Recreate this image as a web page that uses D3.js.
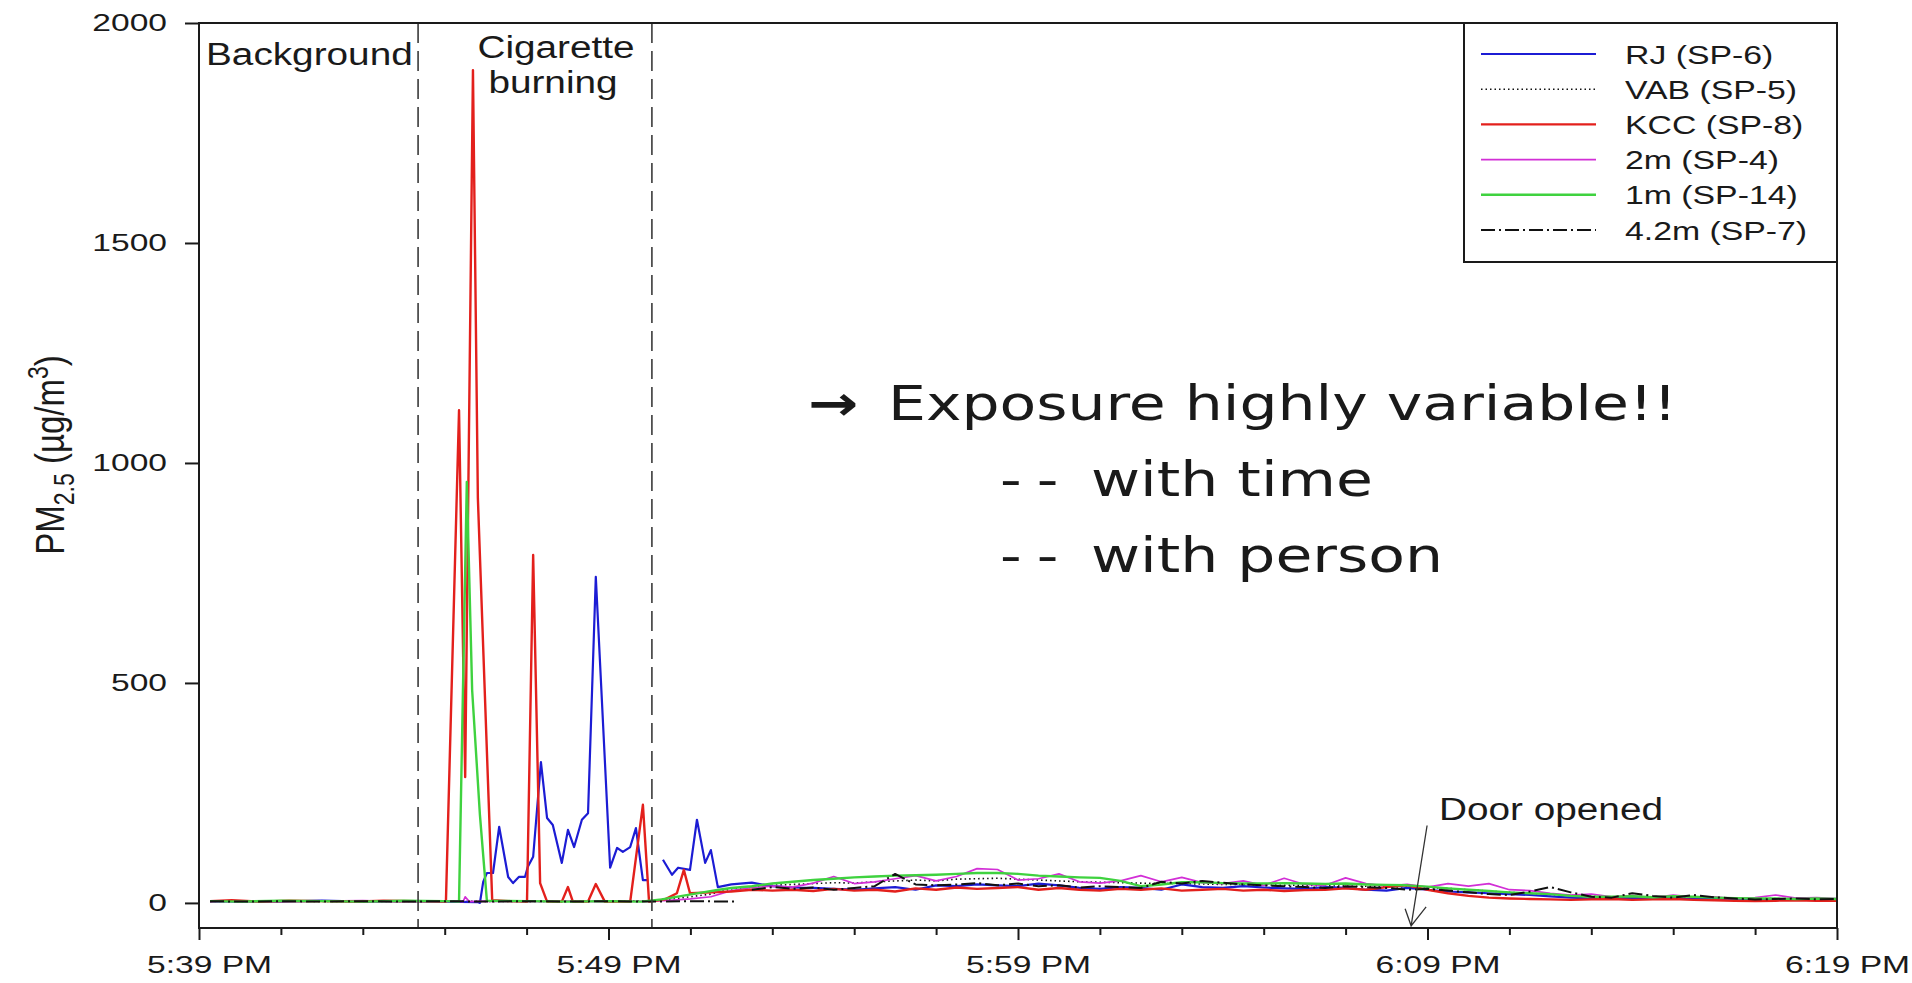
<!DOCTYPE html>
<html>
<head>
<meta charset="utf-8">
<script src="https://cdn.jsdelivr.net/npm/d3@7"></script>
<style>
body { margin: 0; background: #fff; overflow: hidden; }
#chart text { fill: #1a1a1a; }
.chart-text { font-family: "Liberation Sans", Arial, sans-serif; }
.note { font-family: "DejaVu Sans", Verdana, sans-serif; fill: #000; }
</style>
</head>
<body>
<svg id="chart" width="1912" height="983"></svg>
<script>

// ---------------------------------------------------------------
// Data (minutes after 5:39 PM, PM2.5 in ug/m3)
// ---------------------------------------------------------------
var seriesNames = ["RJ (SP-6)", "VAB (SP-5)", "KCC (SP-8)", "2m (SP-4)", "1m (SP-14)", "4.2m (SP-7)"];

var majorMinutes = [0, 10, 20, 30, 40];
var timeLabels = ["5:39 PM", "5:49 PM", "5:59 PM", "6:09 PM", "6:19 PM"];
var minorMinutes = [2, 4, 6, 8, 12, 14, 16, 18, 22, 24, 26, 28, 32, 34, 36, 38];
var yTicks = [0, 500, 1000, 1500, 2000];

var phaseMinutes = [5.35, 11.06];   // background | cigarette burning | after
var doorMinute = 29.6;

// spiky first part, [minute, value]; [null] marks a gap in the record
var rjEarly = [[0.27,3],[1,4],[2,3],[3,5],[4,3],[5,4],[6,3],[6.81,2],[6.86,0],[6.94,48],[7.03,68],[7.18,68],
  [7.33,173],[7.55,59],[7.67,45],[7.81,59],[7.96,59],[8.03,82],[8.16,105],[8.35,320],[8.50,193],[8.64,177],
  [8.86,91],[9.01,166],[9.16,127],[9.35,189],[9.50,204],[9.69,741],[10.04,80],[10.21,125],[10.35,116],
  [10.53,127],[10.67,170],[10.84,52],[10.94,52],[null],[11.33,98],[11.55,64],[11.70,80],[11.99,75],
  [12.16,189],[12.36,91],[12.50,120],[12.67,36]];
var vabEarly = [[0.27,3],[2,4],[4,3],[6,4],[8,3],[10,4],[11,5],[11.5,8],[12,14],[12.5,20]];
var kccEarly = [[0.27,4],[0.8,6],[1.5,3],[2.2,5],[3,4],[3.8,3],[4.5,5],[5.3,4],[6.03,3],[6.35,1120],[6.50,286],
  [6.69,1893],[6.81,920],[7.16,6],[7.6,4],[8.01,3],[8.16,791],[8.33,45],[8.50,3],[8.86,3],[9.01,36],[9.13,3],
  [9.50,3],[9.69,43],[9.91,3],[10.53,3],[10.84,223],[10.99,3],[11.38,8],[11.67,22],[11.84,75],[11.99,22],[12.5,24]];
var m2Early = [[0.27,3],[1,4],[2,3],[3,4],[4,5],[5,3],[6,4],[6.45,3],[6.5,14],[6.6,3],[7,4],[8,3],[9,4],[10,3],
  [11,4],[11.5,6],[12,9],[12.5,14]];
var m1Early = [[0.27,4],[1,3],[2,5],[3,4],[4,3],[5,5],[6.0,4],[6.35,3],[6.54,957],[6.67,484],[6.86,200],[7.03,5],
  [8,4],[9,3],[10,4],[10.8,3],[11.3,8],[11.8,16],[12.3,24],[12.7,30]];
var m42Early = [[0.27,4],[1,3],[2,4],[3,3],[4,4],[5,3],[6,4],[7,3],[8,4],[9,3],[10,4],[11,3],[12,4],[13.16,3]];

// slow part, one value every half minute
var lateMinutes = [13,13.5,14,14.5,15,15.5,16,16.5,17,17.5,18,18.5,19,19.5,20,20.5,21,21.5,22,22.5,23,23.5,24,24.5,
  25,25.5,26,26.5,27,27.5,28,28.5,29,29.5,30,30.5,31,31.5,32,32.5,33,33.5,34,34.5,35,35.5,36,36.5,37,37.5,38,38.5,39,39.5,40];
var rjLate = [42,46,38,35,34,32,30,33,36,30,40,38,42,40,38,44,40,34,32,36,34,30,42,36,34,38,35,33,32,36,34,30,28,34,30,
  26,24,22,20,18,15,12,10,11,12,10,11,9,10,8,8,7,8,7,6];
var vabLate = [32,36,40,42,44,46,45,48,50,52,50,54,55,56,54,52,50,48,47,46,45,44,44,43,42,42,41,40,40,39,38,38,37,36,35,
  33,30,27,24,22,19,17,15,14,14,13,13,12,12,11,10,10,9,9,9];
var kccLate = [26,30,28,30,27,32,28,30,26,33,30,35,32,34,36,30,34,30,28,32,30,33,28,30,32,28,30,27,29,30,33,30,36,40,30,
  22,16,12,10,9,8,7,8,9,7,8,9,7,6,5,4,5,6,5,5];
var m2Late = [28,35,38,36,45,60,44,48,55,62,50,60,78,76,52,55,66,48,45,50,62,48,58,46,44,50,40,56,42,40,57,44,38,42,36,
  44,38,44,30,28,22,18,20,14,16,12,18,13,14,10,12,18,11,12,10];
var m1Late = [34,38,44,48,52,55,58,60,62,63,64,66,68,68,66,62,60,58,57,50,38,42,47,47,45,44,44,45,44,43,44,42,41,40,37,
  33,30,27,24,22,20,16,14,14,15,13,15,14,12,11,10,10,9,10,9];
var m42Late = [null,30,36,32,35,30,34,38,66,42,40,42,45,40,44,38,40,35,38,36,34,48,44,50,46,42,40,38,36,34,38,36,34,30,32,
  28,24,20,18,26,36,24,14,12,22,16,12,18,13,10,8,9,10,8,9];

// ---------------------------------------------------------------
var svg = d3.select("#chart");
var plot = {left: 199, right: 1837, top: 23, bottom: 928};

var x = d3.scaleLinear().domain([0, 40]).range([plot.left, plot.right]);
var y = d3.scaleLinear().domain([-57, 2000]).range([plot.bottom, plot.top]);

var styles = [
    {color: "#1c1cd4", width: 2.2, dash: null},
    {color: "#111",    width: 1.6, dash: "1.5,3"},
    {color: "#e3201c", width: 2.4, dash: null},
    {color: "#d22fd6", width: 1.7, dash: null},
    {color: "#3fd23f", width: 2.4, dash: null},
    {color: "#111",    width: 2.0, dash: "14,4,2,4"}
];

/** Joins the spiky part and the half-minute part of one instrument. */
function buildSeries(early, late) {
    var pts = early.map(function(p) {
        return {t: p[0], v: p.length > 1 ? p[1] : null};
    });
    lateMinutes.forEach(function(t, i) {
        pts.push({t: t, v: late[i]});
    });
    return pts;
}

var series = [
    buildSeries(rjEarly, rjLate),
    buildSeries(vabEarly, vabLate),
    buildSeries(kccEarly, kccLate),
    buildSeries(m2Early, m2Late),
    buildSeries(m1Early, m1Late),
    buildSeries(m42Early, m42Late)
];

var line = d3.line()
    .defined(function(d) { return d.v !== null && d.t !== null; })
    .x(function(d) { return x(d.t); })
    .y(function(d) { return y(d.v); });

// draw order: dotted & blue first, red, magenta, green, black on top
var drawOrder = [1, 0, 3, 2, 4, 5];
svg.append("g")
    .selectAll("path")
    .data(drawOrder).enter().append("path")
        .attr("fill", "none")
        .attr("stroke", function(i) { return styles[i].color; })
        .attr("stroke-width", function(i) { return styles[i].width; })
        .attr("stroke-dasharray", function(i) { return styles[i].dash; })
        .attr("stroke-linejoin", "round")
        .attr("d", function(i) { return line(series[i]); });

//-------------------------------------------------
// phase separators
//-------------------------------------------------
svg.append("g")
    .selectAll("line")
    .data(phaseMinutes).enter().append("line")
        .attr("x1", function(d) { return x(d); })
        .attr("x2", function(d) { return x(d); })
        .attr("y1", plot.top)
        .attr("y2", plot.bottom)
        .attr("stroke", "#3a3a3a")
        .attr("stroke-width", 1.6)
        .attr("stroke-dasharray", "20,8");

//-------------------------------------------------
// axes and frame
//-------------------------------------------------
var yAxis = d3.axisLeft(y).tickValues(yTicks).tickSize(14).tickSizeOuter(0).tickPadding(18)
    .tickFormat(d3.format("d"));
var gy = svg.append("g")
    .attr("transform", "translate(" + plot.left + ",0)")
    .call(yAxis);
gy.attr("font-size", 24).attr("font-family", null).attr("class", "chart-text");
gy.select(".domain").remove();
gy.selectAll(".tick line").attr("stroke", "#1a1a1a").attr("stroke-width", 2);
gy.selectAll(".tick text")
    .attr("x", 0)
    .attr("transform", "translate(-32,0) scale(1.4,1)");

var xAxis = d3.axisBottom(x).tickValues(majorMinutes).tickSize(12).tickSizeOuter(0).tickPadding(16)
    .tickFormat(function(d, i) { return timeLabels[i]; });
var gx = svg.append("g")
    .attr("transform", "translate(0," + plot.bottom + ")")
    .call(xAxis);
gx.attr("font-size", 24).attr("font-family", null).attr("class", "chart-text");
gx.select(".domain").remove();
gx.selectAll(".tick line").attr("stroke", "#1a1a1a").attr("stroke-width", 2);
gx.selectAll(".tick text").attr("transform", "translate(10,0) scale(1.4,1)");

var gxMinor = svg.append("g")
    .attr("transform", "translate(0," + plot.bottom + ")")
    .call(d3.axisBottom(x).tickValues(minorMinutes).tickSize(7).tickSizeOuter(0).tickFormat(""));
gxMinor.select(".domain").remove();
gxMinor.selectAll(".tick line").attr("stroke", "#1a1a1a").attr("stroke-width", 2);

svg.append("rect")
    .attr("x", plot.left)
    .attr("y", plot.top)
    .attr("width", plot.right - plot.left)
    .attr("height", plot.bottom - plot.top)
    .attr("fill", "none")
    .attr("stroke", "#1a1a1a")
    .attr("stroke-width", 2);

// y axis title with sub- and superscript
var yTitle = svg.append("text")
    .attr("class", "chart-text")
    .attr("font-size", 33)
    .attr("text-anchor", "middle")
    .attr("transform", "translate(50,455) scale(1.25,1) rotate(-90)")
    .attr("dy", "0.35em");
yTitle.append("tspan").text("PM");
yTitle.append("tspan").attr("font-size", 23).attr("dy", 8).text("2.5");
yTitle.append("tspan").attr("dy", -8).text(" (\u00b5g/m");
yTitle.append("tspan").attr("font-size", 23).attr("dy", -13).text("3");
yTitle.append("tspan").attr("dy", 13).text(")");

//-------------------------------------------------
// legend
//-------------------------------------------------
var legend = svg.append("g");
legend.append("rect")
    .attr("x", 1464).attr("y", plot.top)
    .attr("width", plot.right - 1464).attr("height", 239)
    .attr("fill", "#fff")
    .attr("stroke", "#1a1a1a")
    .attr("stroke-width", 2);

var rows = legend.selectAll(".row")
    .data(seriesNames).enter().append("g")
        .attr("class", "row")
        .attr("transform", function(d, i) { return "translate(0," + (54 + i * 35.2) + ")"; });
rows.append("line")
    .attr("x1", 1481).attr("x2", 1596)
    .attr("stroke", function(d, i) { return styles[i].color; })
    .attr("stroke-width", function(d, i) { return styles[i].width; })
    .attr("stroke-dasharray", function(d, i) { return styles[i].dash; });
rows.append("text")
    .attr("class", "chart-text")
    .attr("font-size", 26)
    .attr("transform", "translate(1625,9.5) scale(1.3,1)")
    .text(function(d) { return d; });

//-------------------------------------------------
// annotations
//-------------------------------------------------
function note(txt, px, py, anchor) {
    svg.append("text")
        .attr("class", "chart-text")
        .attr("font-size", 31)
        .attr("text-anchor", anchor)
        .attr("transform", "translate(" + px + "," + py + ") scale(1.25,1)")
        .text(txt);
}
note("Background", 206, 65, "start");
note("Cigarette", 556, 58, "middle");
note("burning", 553, 93, "middle");
note("Door opened", 1439, 820, "start");

// arrow from the door label down to the time axis
var tipX = x(doorMinute), tipY = y(-52);
var tailX = x(doorMinute + 0.39), tailY = y(176);
svg.append("path")
    .attr("d", "M" + tailX + "," + tailY + "L" + tipX + "," + tipY +
               "M" + (tipX - 6) + "," + (tipY - 17) + "L" + tipX + "," + tipY +
               "L" + (tipX + 15) + "," + (tipY - 19))
    .attr("fill", "none")
    .attr("stroke", "#333")
    .attr("stroke-width", 1.3);

// slide overlay text
function bigText(txt, px, py, extra, weight) {
    var t = svg.append("text")
        .attr("class", "note")
        .attr("font-size", 48)
        .attr("transform", "translate(" + px + "," + py + ") scale(1.25,1)")
        .text(txt);
    if (extra) t.attr("letter-spacing", extra);
    if (weight) t.attr("font-weight", weight);
}
bigText("\u2192", 808, 420, null, "bold");
bigText("Exposure highly variable!!", 888, 420);
bigText("--", 1000, 496, 12);
bigText("with time", 1091, 496);
bigText("--", 1000, 572, 12);
bigText("with person", 1091, 572);

</script>
</body>
</html>
